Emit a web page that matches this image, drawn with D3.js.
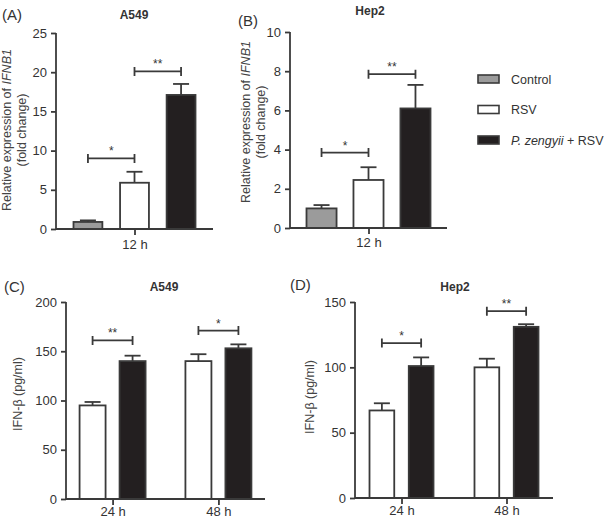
<!DOCTYPE html>
<html>
<head>
<meta charset="utf-8">
<script src="https://cdn.jsdelivr.net/npm/d3@7"></script>
<style>
  body { margin: 0; background: #fff; }
  svg { font-family: "Liberation Sans", Arial, sans-serif; }
</style>
</head>
<body>
<svg id="chart"></svg>
<script>
// ---- data ----
const groups = ["Control", "RSV", "P. zengyii + RSV"];
const pairGroups = ["RSV", "P. zengyii + RSV"];
const qpcrTime = ["12 h"];
const elisaTimes = ["24 h", "48 h"];

// (A) A549 IFNB1 fold change
const a549Fold = [0.9, 5.9, 17.1];
const a549FoldErr = [0.2, 1.4, 1.4];
// (B) Hep2 IFNB1 fold change
const hep2Fold = [1.0, 2.45, 6.1];
const hep2FoldErr = [0.17, 0.65, 1.2];

// (C) A549 IFN-b pg/ml  [24 h, 48 h]
const a549Rsv = [95, 140];
const a549RsvErr = [3.5, 7];
const a549Pz = [140, 153];
const a549PzErr = [5.5, 4];
// (D) Hep2 IFN-b pg/ml
const hep2Rsv = [67, 100];
const hep2RsvErr = [5.5, 6.6];
const hep2Pz = [101, 131];
const hep2PzErr = [6.6, 2];

const ticksA = [0, 5, 10, 15, 20, 25];
const ticksB = [0, 2, 4, 6, 8, 10];
const ticksC = [0, 50, 100, 150, 200];
const ticksD = [0, 50, 100, 150];

// significance brackets: [time, fromGroup, toGroup, level, label]
const sigA = [["12 h", "Control", "RSV", 9, "*"], ["12 h", "RSV", "P. zengyii + RSV", 20.1, "**"]];
const sigB = [["12 h", "Control", "RSV", 3.85, "*"], ["12 h", "RSV", "P. zengyii + RSV", 7.85, "**"]];
const sigC = [["24 h", "RSV", "P. zengyii + RSV", 161, "**"], ["48 h", "RSV", "P. zengyii + RSV", 171, "*"]];
const sigD = [["24 h", "RSV", "P. zengyii + RSV", 118.6, "*"], ["48 h", "RSV", "P. zengyii + RSV", 143, "**"]];

const fills = { "Control": "#9b9b9b", "RSV": "#ffffff", "P. zengyii + RSV": "#231f20" };
const ink = "#3a3a3a";

const svg = d3.select("#chart").attr("width", 606).attr("height", 520);

function rowsFor(times, series, means, errs) {
  // means[seriesIndex][timeIndex]
  let rows = [];
  times.forEach((t, ti) => {
    series.forEach((s, si) => {
      rows.push({ time: t, group: s, value: means[si][ti], err: errs[si][ti] });
    });
  });
  return rows;
}

function drawPanel(cfg) {
  const g = svg.append("g");

  const y = d3.scaleLinear().domain([0, cfg.yMax]).range([cfg.y0, cfg.y1]);
  const xOuter = d3.scalePoint().domain(cfg.times).range([cfg.x0, cfg.x1]).padding(cfg.outerPad);
  const xInner = d3.scaleBand().domain(cfg.series)
    .range([-cfg.innerHalf, cfg.innerHalf]).paddingInner(cfg.innerPad).paddingOuter(0);

  // bars
  g.selectAll("rect.bar")
    .data(cfg.rows)
    .join("rect")
    .attr("class", "bar")
    .attr("x", d => xOuter(d.time) + xInner(d.group))
    .attr("width", xInner.bandwidth())
    .attr("y", d => y(d.value))
    .attr("height", d => y(0) - y(d.value))
    .attr("fill", d => fills[d.group])
    .attr("stroke", ink)
    .attr("stroke-width", 1.8);

  // error bars (upper only)
  const eb = g.selectAll("g.err").data(cfg.rows).join("g").attr("class", "err")
    .attr("stroke", ink).attr("stroke-width", 1.8);
  eb.append("line")
    .attr("x1", d => xOuter(d.time) + xInner(d.group) + xInner.bandwidth() / 2)
    .attr("x2", d => xOuter(d.time) + xInner(d.group) + xInner.bandwidth() / 2)
    .attr("y1", d => y(d.value))
    .attr("y2", d => y(d.value + d.err));
  eb.append("line")
    .attr("x1", d => xOuter(d.time) + xInner(d.group) + xInner.bandwidth() / 2 - 8)
    .attr("x2", d => xOuter(d.time) + xInner(d.group) + xInner.bandwidth() / 2 + 8)
    .attr("y1", d => y(d.value + d.err))
    .attr("y2", d => y(d.value + d.err));

  // axes
  const yAxis = d3.axisLeft(y).tickValues(cfg.ticks).tickSize(5).tickPadding(4);
  const yAxisG = g.append("g").attr("transform", `translate(${cfg.x0},0)`).call(yAxis);
  const xAxis = d3.axisBottom(xOuter).tickSize(6).tickPadding(cfg.xPad);
  const xAxisG = g.append("g").attr("transform", `translate(0,${cfg.y0})`).call(xAxis);

  [yAxisG, xAxisG].forEach(a => {
    a.select(".domain").attr("stroke", ink).attr("stroke-width", 1.8);
    a.selectAll(".tick line").attr("stroke", ink).attr("stroke-width", 1.8);
    a.selectAll(".tick text").attr("fill", "#333").style("font-size", "13px")
      .style("font-family", "Liberation Sans, Arial, sans-serif");
  });
  // domain path without the outer ticks: redraw as plain line
  yAxisG.select(".domain").attr("d", `M0,${cfg.y0}V${cfg.y1}`);
  xAxisG.select(".domain").attr("d", `M${cfg.x0},0H${cfg.x1}`);

  // significance brackets
  const sg = g.selectAll("g.sig").data(cfg.sig).join("g").attr("class", "sig");
  const cx = (t, s) => xOuter(t) + xInner(s) + xInner.bandwidth() / 2;
  sg.append("path")
    .attr("d", d => {
      const xa = cx(d[0], d[1]), xb = cx(d[0], d[2]), yy = y(d[3]);
      return `M${xa},${yy}H${xb}M${xa},${yy - 4.5}V${yy + 4.5}M${xb},${yy - 4.5}V${yy + 4.5}`;
    })
    .attr("stroke", ink).attr("stroke-width", 1.8).attr("fill", "none");
  sg.append("text")
    .attr("x", d => (cx(d[0], d[1]) + cx(d[0], d[2])) / 2)
    .attr("y", d => y(d[3]) - 3)
    .attr("text-anchor", "middle")
    .attr("fill", "#333")
    .style("font-size", "12px")
    .text(d => d[4]);

  // titles
  g.append("text").attr("x", cfg.titleX).attr("y", cfg.titleY)
    .attr("text-anchor", "middle").attr("font-weight", "bold")
    .attr("fill", "#333").style("font-size", "12px").text(cfg.title);
  g.append("text").attr("x", cfg.tagX).attr("y", cfg.tagY)
    .attr("fill", "#333").style("font-size", "15px").text(cfg.tag);

  // y label
  const lab = g.append("text")
    .attr("transform", `translate(${cfg.labX},${cfg.labY}) rotate(-90)`)
    .attr("text-anchor", "middle").attr("fill", "#444").style("font-size", "12.5px");
  if (cfg.italic) {
    lab.append("tspan").attr("x", 0).attr("dy", 0).text("Relative expression of ");
    lab.append("tspan").attr("font-style", "italic").text("IFNB1");
    lab.append("tspan").attr("x", 0).attr("dy", 15).text("(fold change)");
  } else {
    lab.text(cfg.label);
  }
}

drawPanel({
  tag: "(A)", tagX: 2, tagY: 20, title: "A549", titleX: 134, titleY: 19,
  x0: 56, x1: 213, y0: 229, y1: 33, yMax: 25, ticks: ticksA, xPad: 5,
  times: qpcrTime, outerPad: 0.5, series: groups, innerHalf: 61, innerPad: 0.38,
  rows: rowsFor(qpcrTime, groups, [[a549Fold[0]], [a549Fold[1]], [a549Fold[2]]],
    [[a549FoldErr[0]], [a549FoldErr[1]], [a549FoldErr[2]]]),
  sig: sigA, italic: true, labX: 11, labY: 130
});

drawPanel({
  tag: "(B)", tagX: 238, tagY: 26, title: "Hep2", titleX: 370, titleY: 15,
  x0: 290, x1: 447, y0: 228, y1: 32, yMax: 10, ticks: ticksB, xPad: 4,
  times: qpcrTime, outerPad: 0.5, series: groups, innerHalf: 62, innerPad: 0.36,
  rows: rowsFor(qpcrTime, groups, [[hep2Fold[0]], [hep2Fold[1]], [hep2Fold[2]]],
    [[hep2FoldErr[0]], [hep2FoldErr[1]], [hep2FoldErr[2]]]),
  sig: sigB, italic: true, labX: 250, labY: 122
});

drawPanel({
  tag: "(C)", tagX: 4, tagY: 292, title: "A549", titleX: 164, titleY: 291,
  x0: 66, x1: 265, y0: 499, y1: 302, yMax: 200, ticks: ticksC, xPad: 2,
  times: elisaTimes, outerPad: 0.44, series: pairGroups, innerHalf: 33, innerPad: 0.35,
  rows: rowsFor(elisaTimes, pairGroups, [a549Rsv, a549Pz], [a549RsvErr, a549PzErr]),
  sig: sigC, italic: false, label: "IFN-β (pg/ml)", labX: 22, labY: 394
});

drawPanel({
  tag: "(D)", tagX: 290, tagY: 290, title: "Hep2", titleX: 455, titleY: 291,
  x0: 355, x1: 553, y0: 498, y1: 302, yMax: 150, ticks: ticksD, xPad: 2,
  times: elisaTimes, outerPad: 0.443, series: pairGroups, innerHalf: 32, innerPad: 0.37,
  rows: rowsFor(elisaTimes, pairGroups, [hep2Rsv, hep2Pz], [hep2RsvErr, hep2PzErr]),
  sig: sigD, italic: false, label: "IFN-β (pg/ml)", labX: 314, labY: 397
});

// legend
const legendY = d3.scalePoint().domain(groups).range([79, 140]);
const leg = svg.append("g").selectAll("g").data(groups).join("g")
  .attr("transform", d => `translate(478,${legendY(d)})`);
leg.append("rect").attr("x", 0).attr("y", -4).attr("width", 21).attr("height", 8)
  .attr("fill", d => fills[d]).attr("stroke", ink).attr("stroke-width", 1.6);
const lt = leg.append("text").attr("x", 33).attr("y", 4.5)
  .attr("fill", "#333").style("font-size", "12.5px");
lt.each(function(d) {
  const t = d3.select(this);
  if (d === "P. zengyii + RSV") {
    t.append("tspan").attr("font-style", "italic").text("P. zengyii");
    t.append("tspan").text(" + RSV");
  } else {
    t.text(d);
  }
});
</script>
</body>
</html>
